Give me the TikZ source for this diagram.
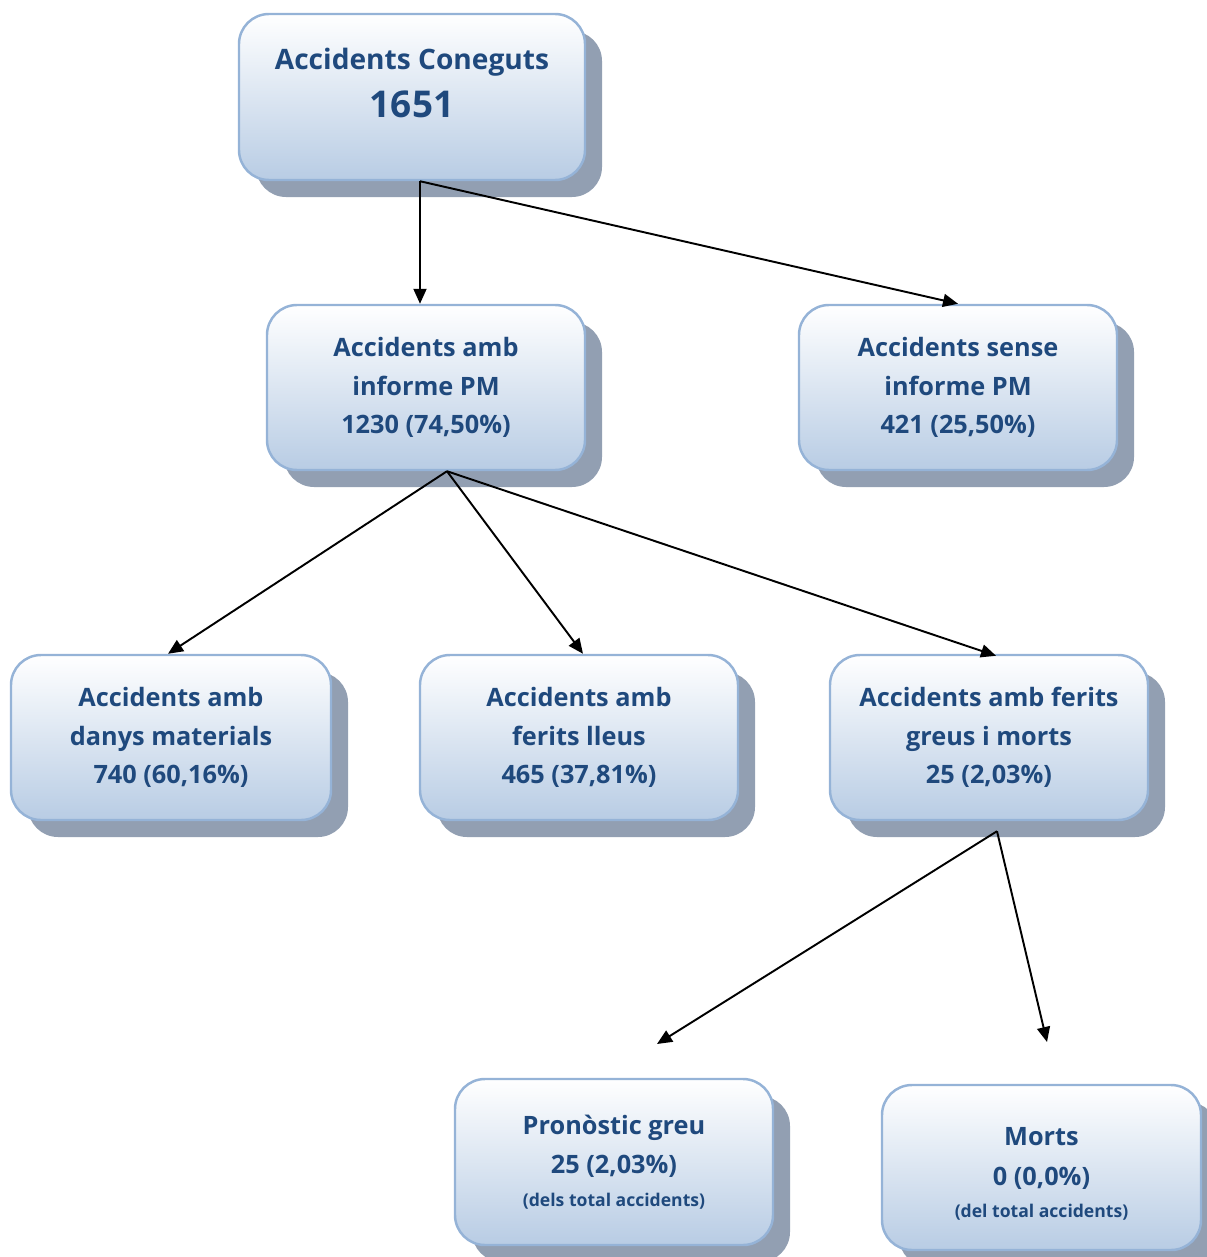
\documentclass[tikz,border=0pt]{standalone}
\usepackage{fontspec}
\setmainfont{Open Sans}
\usepackage{tikz}
\usetikzlibrary{arrows.meta,shadows}
\definecolor{txtblue}{HTML}{1F497D}
\definecolor{boxline}{HTML}{95B3D7}
\definecolor{boxbot}{HTML}{B8CCE4}
\definecolor{boxshadow}{HTML}{929FB2}
\tikzset{
  box/.style={rectangle,rounded corners=0.6cm,draw=boxline,line width=1.4pt,
              top color=white,bottom color=boxbot,text=txtblue,align=center,
              minimum width=6.36cm,minimum height=3.3cm,inner sep=2pt,
              font=\fontsize{14.4}{22}\selectfont\bfseries,
              drop shadow={shadow xshift=0.34cm,shadow yshift=-0.34cm,fill=boxshadow,opacity=1}},
  link/.style={-{Triangle[length=3mm,width=2.6mm]},black,line width=1.1pt},
}
\newcommand{\smalltxt}[1]{{\fontsize{10}{12}\selectfont #1}}
\newcommand{\bignum}[1]{{\fontsize{21}{26}\selectfont #1}}
\begin{document}
\begin{tikzpicture}
  \useasboundingbox (0,0) rectangle (24.12,-25.14);
  % boxes
  \node[box,minimum width=6.92cm,minimum height=3.32cm,font=\fontsize{16}{24}\selectfont\bfseries] (known) at (8.24,-1.94)
       {Accidents Coneguts\\[3pt]\bignum{1651}\\[-8pt]\mbox{}};
  \node[box] (withpm)    at (8.52,-7.75)   {Accidents amb\\informe PM\\[0pt]1230 (74,50\%)};
  \node[box] (withoutpm) at (19.16,-7.75)  {Accidents sense\\informe PM\\[0pt]421 (25,50\%)};
  \node[box,minimum width=6.4cm] (damage) at (3.42,-14.75) {Accidents amb\\danys materials\\[0pt]740 (60,16\%)};
  \node[box] (minor)     at (11.58,-14.75) {Accidents amb\\ferits lleus\\[0pt]465 (37,81\%)};
  \node[box] (serious)   at (19.78,-14.75) {Accidents amb ferits\\greus i morts\\[0pt]25 (2,03\%)};
  \node[box,minimum height=3.32cm] (grave) at (12.28,-23.24)
       {Pronòstic greu\\[0.5pt]25 (2,03\%)\\[-3.5pt]\smalltxt{(dels total accidents)}};
  \node[box,minimum width=6.38cm] (dead) at (20.83,-23.35)
       {\rule{0pt}{18pt}Morts\\[0.5pt]0 (0,0\%)\\[-3.5pt]\smalltxt{(del total accidents)}};
  % free ends
  \coordinate (graveend) at (13.14,-20.88);
  \coordinate (deadend)  at (20.94,-20.84);
  % links
  \draw[link] ([xshift=0.16cm]known.south) -- ([xshift=-0.12cm]withpm.north);
  \draw[link] ([xshift=0.16cm]known.south) -- (withoutpm.north);
  \draw[link] ([xshift=0.42cm]withpm.south) -- ([xshift=-0.06cm]damage.north);
  \draw[link] ([xshift=0.42cm]withpm.south) -- ([xshift=0.08cm]minor.north);
  \draw[link] ([xshift=0.42cm]withpm.south) -- ([xshift=0.14cm,yshift=-0.04cm]serious.north);
  \draw[link] ([xshift=0.16cm,yshift=-0.2cm]serious.south) -- (graveend);
  \draw[link] ([xshift=0.16cm,yshift=-0.2cm]serious.south) -- (deadend);
\end{tikzpicture}
\end{document}
